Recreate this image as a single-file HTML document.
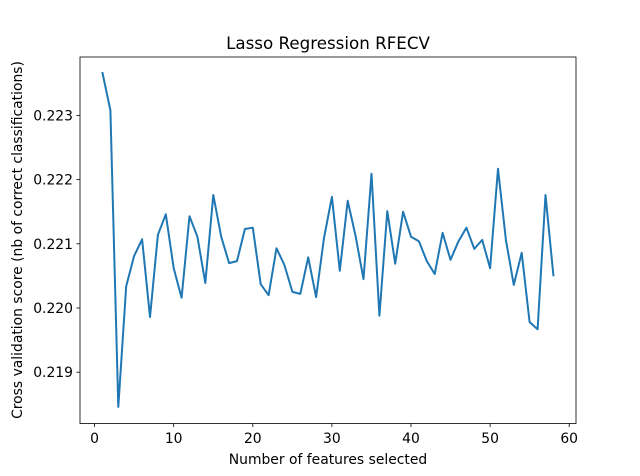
<!DOCTYPE html>
<html><head><meta charset="utf-8"><style>
body{margin:0;background:#fff}
svg{display:block;font-family:"DejaVu Sans","Liberation Sans",sans-serif}
</style></head><body>
<svg id="chart" width="640" height="476">
<rect x="0" y="0" width="640" height="476" fill="#fff"/>
<text x="328" y="49" text-anchor="middle" font-size="16.7">Lasso Regression RFECV</text>
<text x="328" y="464" text-anchor="middle" font-size="13.9">Number of features selected</text>
<text transform="translate(22,240) rotate(-90)" text-anchor="middle" font-size="13.9">Cross validation score (nb of correct classifications)</text>
<g id="ticks"></g>
<path id="line" fill="none" stroke="#1f77b4" stroke-width="2" stroke-linejoin="round" stroke-linecap="square"/>
<rect x="80" y="57" width="496" height="366.5" fill="none" stroke="#000" stroke-width="0.8"/>
</svg>
<script>
const features=[];for(let i=1;i<=58;i++)features.push(i);
const scores=[0.22366,0.22308,0.21846,0.22034,0.22081,0.22107,0.21986,0.22114,0.22146,0.22062,0.22016,0.22143,0.22111,0.22039,0.22176,0.22111,0.22070,0.22073,0.22123,0.22125,0.22037,0.22020,0.22093,0.22067,0.22025,0.22022,0.22079,0.22017,0.22109,0.22173,0.22058,0.22167,0.22112,0.22045,0.22209,0.21988,0.22151,0.22069,0.22150,0.22111,0.22104,0.22073,0.22053,0.22117,0.22075,0.22104,0.22125,0.22092,0.22106,0.22062,0.22217,0.22106,0.22036,0.22086,0.21978,0.21967,0.22176,0.22051];
const xTicks=[0,10,20,30,40,50,60];
const yTicks=[0.219,0.220,0.221,0.222,0.223];
const yTickLabels=["0.219","0.220","0.221","0.222","0.223"];
function xs(v){return 94.6+v*7.91;}
function ys(v){return 308-(v-0.220)*64200;}
const ns="http://www.w3.org/2000/svg";
const g=document.getElementById('ticks');
xTicks.forEach(t=>{
 const l=document.createElementNS(ns,'line');
 l.setAttribute('x1',xs(t));l.setAttribute('x2',xs(t));l.setAttribute('y1',423.5);l.setAttribute('y2',427);l.setAttribute('stroke','#000');l.setAttribute('stroke-width','0.8');
 
 
 g.appendChild(l);
 const tx=document.createElementNS(ns,'text');
 tx.setAttribute('x',xs(t));tx.setAttribute('y',443);tx.setAttribute('text-anchor','middle');tx.setAttribute('font-size','13.9');tx.textContent=t;
 
 
 g.appendChild(tx);
});
yTicks.forEach((t,i)=>{
 const l=document.createElementNS(ns,'line');
 l.setAttribute('x1',76.5);l.setAttribute('x2',80);l.setAttribute('y1',ys(t));l.setAttribute('y2',ys(t));l.setAttribute('stroke','#000');l.setAttribute('stroke-width','0.8');
 
 
 g.appendChild(l);
 const tx=document.createElementNS(ns,'text');
 tx.setAttribute('x',73);tx.setAttribute('y',ys(t)+5);tx.setAttribute('text-anchor','end');tx.setAttribute('font-size','13.9');tx.textContent=yTickLabels[i];
 
 
 g.appendChild(tx);
});
document.getElementById('line').setAttribute('d',features.map((f,i)=>(i?'L':'M')+xs(f).toFixed(1)+','+ys(scores[i]).toFixed(1)).join(' '));
</script>
</body></html>
